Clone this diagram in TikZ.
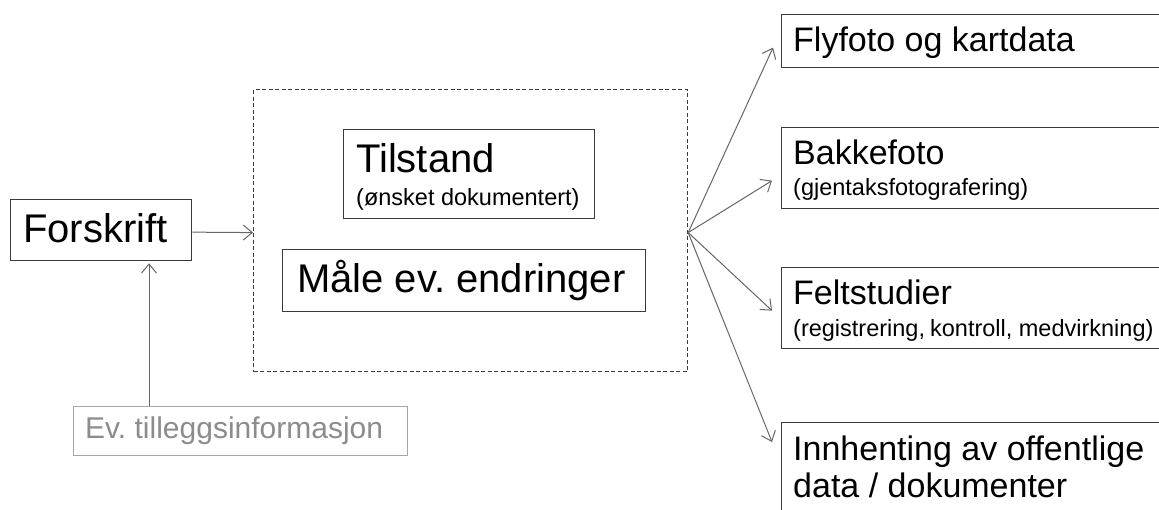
\documentclass[tikz,border=0pt]{standalone}
\usepackage{fontspec}
\setmainfont{Liberation Sans}
\usetikzlibrary{arrows.meta}
\definecolor{boxline}{HTML}{3A3A3A}
\definecolor{arrline}{HTML}{666666}
\definecolor{evgray}{HTML}{8C8C8C}
\definecolor{evline}{HTML}{A6A6A6}
\tikzset{
  boxnode/.style={draw=boxline, line width=1.3pt, rectangle, inner sep=0pt, anchor=north west},
  txt/.style={anchor=base west, inner sep=0pt, text=black},
  arr/.style={draw=arrline, line width=1pt, -{Straight Barb[length=9pt,width=15pt,line width=1pt]}},
  big/.style={font=\fontsize{40}{44}\selectfont},
  mid/.style={font=\fontsize{34}{38}\selectfont},
  small/.style={font=\fontsize{23.5}{28}\selectfont},
}
\frenchspacing
\begin{document}
\frenchspacing
\begin{tikzpicture}[x=1pt,y=-1pt]
\useasboundingbox[fill=white] (0,0) rectangle (1159,510);
% Forskrift
\node[boxnode, minimum width=181pt, minimum height=61pt] (forskrift) at (10,199) {};
\node[txt, big] (forskrifttxt) at (23,243) {Forskrift};
% Ev. tilleggsinformasjon
\node[boxnode, draw=evline, minimum width=334pt, minimum height=49pt] (ev) at (73,406) {};
\node[txt, text=evgray, font=\fontsize{30}{34}\selectfont] (evtxt) at (85,438) {Ev. tilleggsinformasjon};
% dashed group
\node[boxnode, line width=1.2pt, dash pattern=on 4pt off 2.5pt, minimum width=434pt, minimum height=282pt] (group) at (253,89) {};
% Tilstand
\node[boxnode, minimum width=251pt, minimum height=89pt] (tilstand) at (343,129) {};
\node[txt, big] (tilstandtxt) at (356,173) {Tilstand};
\node[txt, small] (tilstandsub) at (356,206) {(ønsket dokumentert)};
% Måle
\node[boxnode, minimum width=363pt, minimum height=62pt] (maale) at (282,249) {};
\node[txt, big] (maaletxt) at (297,293) {Måle ev. endringer};
% right boxes
\node[boxnode, minimum width=380pt, minimum height=53pt] (fly) at (781,14) {};
\node[txt, mid] (flytxt) at (793,52) {Flyfoto og kartdata};
\node[boxnode, minimum width=380pt, minimum height=81pt] (bakke) at (781,127) {};
\node[txt, mid] (bakketxt) at (793,165) {Bakkefoto};
\node[txt, small] (bakkesub) at (793,196) {(gjentaksfotografering)};
\node[boxnode, minimum width=380pt, minimum height=81pt] (felt) at (781,267) {};
\node[txt, mid] (felttxt) at (793,305) {Feltstudier};
\node[txt, small] (feltsub) at (793,337) {(registrering,\hspace{-1.5pt} kontroll, medvirkning)};
\node[boxnode, minimum width=380pt, minimum height=95pt] (innh) at (781,422) {};
\node[txt, mid] (innhtxt) at (793,460) {Innhenting av offentlige};
\node[txt, mid] (innhtxt2) at (793,497) {data / dokumenter};
% connectors
\draw[arr] ([yshift=-2pt]forskrift.east) -- ([yshift=-2pt]group.west);
\draw[arr] ([xshift=76pt]ev.north west) -- ([xshift=76pt,yshift=-2pt]ev.north west |- forskrift.south);
\draw[arr] ([yshift=-2pt]group.east) -- ([xshift=-8pt,yshift=-6.5pt]fly.west);
\draw[arr] ([yshift=-2pt]group.east) -- ([xshift=-9pt,yshift=-12.5pt]bakke.west);
\draw[arr] ([yshift=-2pt]group.east) -- ([xshift=-9pt,yshift=-2.5pt]felt.west);
\draw[arr] ([yshift=-2pt]group.east) -- ([xshift=-9pt]innh.north west |- 0,442);
\end{tikzpicture}
\end{document}
